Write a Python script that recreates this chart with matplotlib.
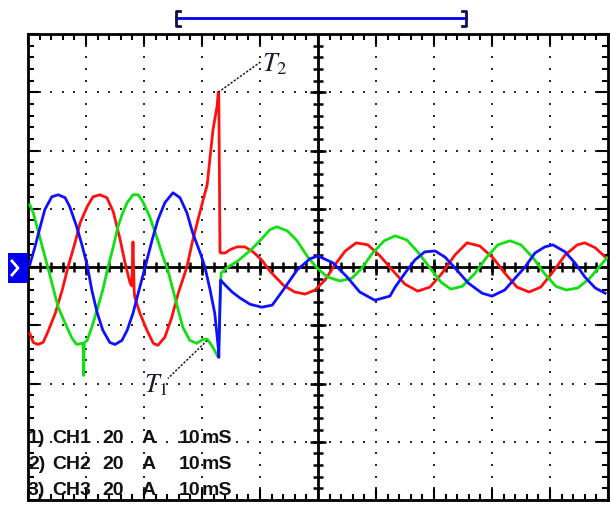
import numpy as np
import matplotlib
matplotlib.use('Agg')
import matplotlib.pyplot as plt
from matplotlib.lines import Line2D
from matplotlib.patches import Rectangle
from matplotlib.ticker import MultipleLocator

# scope traces: time in ms (10 ms/div), current in A (20 A/div)
ch1_t = [0.3, 0.9, 1.7, 2.6, 3.4, 4.7, 5.9, 6.9, 8.1, 9.0, 10.2, 11.2, 12.4, 13.6, 14.7, 15.9, 16.7, 17.6,
         17.9, 18.1, 18.3, 18.4, 19.3, 20.5, 21.6, 22.4, 23.6, 24.8, 25.9, 27.4, 28.3, 29.3, 30.2, 30.9,
         31.4, 31.9, 32.6, 32.8, 32.9, 33.1, 33.3, 34.0, 34.8, 36.0, 37.4, 38.8, 40.3, 41.7, 44.0, 46.0,
         47.8, 49.5, 51.2, 52.9, 54.7, 56.6, 58.6, 60.7, 62.8, 65.0, 67.2, 69.3, 71.4, 73.6, 75.7, 77.9,
         80.2, 82.2, 84.3, 86.4, 88.4, 90.5, 92.6, 94.7, 96.0, 97.8, 99.7]
ch1_i = [-22.8, -25.9, -26.6, -25.9, -22.4, -15.9, -7.9, 0.0, 8.3, 15.2, 20.7, 24.1, 24.8, 23.8, 19.0, 9.3, 1.7, -5.5,
         -6.5, 8.6, -8.0, -10.3, -15.9, -21.7, -26.2, -26.9, -24.1, -17.2, -9.0, 0.0, 8.3, 16.2, 23.1, 28.3,
         37.9, 47.2, 55.2, 60.0, 59.0, 5.0, 4.8, 4.8, 5.9, 6.9, 6.9, 5.2, 2.4, -1.4, -6.2, -8.6,
         -9.3, -7.9, -4.5, 0.7, 5.5, 8.3, 7.6, 3.8, -1.0, -5.9, -8.3, -6.9, -2.1, 4.1, 8.3, 7.2,
         3.1, -2.1, -6.9, -8.6, -6.9, -1.7, 4.1, 7.6, 8.3, 6.6, 3.1]

ch2_t = [0.3, 0.9, 1.7, 2.6, 3.4, 4.3, 5.2, 6.4, 7.6, 8.4, 9.3, 9.5, 9.6, 9.7, 10.2, 11.0, 11.9, 12.9, 13.8,
         14.7, 15.5, 16.2, 17.1, 18.1, 19.0, 19.8, 21.0, 22.2, 23.3, 24.1, 25.0, 25.9, 26.7, 27.9, 29.1,
         30.2, 30.9, 31.9, 32.8, 33.1, 33.3, 34.3, 36.2, 38.6, 40.3, 41.7, 42.9, 44.7, 46.4, 48.1, 49.8,
         51.6, 53.8, 55.9, 57.6, 59.3, 61.4, 63.3, 65.3, 67.2, 69.3, 71.2, 72.9, 74.9, 77.1, 79.1, 81.0,
         83.1, 85.0, 87.1, 89.1, 91.0, 92.8, 94.8, 96.9, 98.6, 99.8]
ch2_i = [21.4, 18.6, 12.8, 5.9, 0.0, -6.9, -13.8, -19.3, -24.5, -26.6, -26.2, -26.2, -37.2, -26.0, -25.2, -20.7, -14.8, -7.9, 0.0,
         6.9, 13.8, 17.9, 22.1, 24.8, 24.8, 22.4, 17.2, 10.3, 3.4, -1.0, -7.9, -14.8, -20.7, -25.2, -26.2,
         -24.8, -24.8, -27.6, -31.0, -12.4, -2.1, -0.3, 2.1, 6.2, 9.7, 12.8, 13.8, 12.4, 9.0, 3.8, -0.3,
         -3.4, -4.8, -3.8, -0.3, 4.5, 9.0, 10.7, 9.3, 5.2, -0.3, -5.2, -7.6, -6.6, -2.1, 3.4, 7.6,
         9.0, 7.6, 3.1, -2.4, -6.6, -7.9, -7.2, -3.8, 0.3, 3.1]

ch3_t = [0.3, 1.2, 2.1, 2.9, 4.1, 5.2, 6.4, 7.2, 8.4, 9.3, 10.2, 11.0, 11.9, 12.9, 14.1, 15.0, 16.2, 17.1,
         18.1, 19.0, 20.2, 21.4, 22.4, 23.6, 25.0, 26.2, 27.4, 28.4, 29.7, 30.5, 31.4, 32.2, 32.8, 32.9,
         33.2, 34.0, 35.2, 36.6, 38.3, 40.3, 42.1, 44.0, 46.4, 48.6, 50.0, 52.6, 55.0, 57.2, 59.8, 62.4,
         63.3, 65.0, 66.7, 68.4, 70.2, 71.9, 73.6, 75.9, 78.3, 80.0, 82.2, 84.0, 85.7, 87.4, 89.1, 90.5,
         92.6, 94.3, 96.0, 97.8, 99.5]
ch3_i = [0.7, 6.9, 13.8, 19.7, 24.1, 24.8, 23.8, 20.7, 13.8, 7.6, 0.7, -7.9, -15.5, -21.7, -25.9, -26.6, -25.2, -21.7,
         -15.9, -9.0, 0.0, 9.3, 16.2, 22.1, 25.5, 23.8, 18.6, 11.7, 4.8, 0.0, -7.9, -15.9, -27.6, -31.0,
         -4.5, -6.2, -8.6, -10.7, -12.8, -13.8, -13.1, -7.9, -1.0, 2.8, 3.8, 1.4, -3.4, -8.6, -11.4, -10.0,
         -6.9, -2.1, 2.4, 5.2, 5.5, 3.4, -0.3, -5.5, -9.0, -10.0, -7.9, -3.8, 0.0, 4.8, 6.9, 7.6,
         5.2, 1.4, -3.4, -7.2, -9.0]

ch_names = ['CH1', 'CH2', 'CH3']
ch_amps = ['20', '20', '20']
ch_units = ['A', 'A', 'A']
ch_time = ['10', '10', '10']
ch_colors = ['#ff1010', '#10e010', '#1010ff']

W, H = 610, 505
fig = plt.figure(figsize=(W / 100, H / 100), dpi=100)
fig.patch.set_facecolor('white')
ax = fig.add_axes([28 / W, 5 / H, 580 / W, 466 / H])
ax.set_xlim(0, 100)
ax.set_ylim(-80, 80)

# border ticks, pointing in
ax.xaxis.set_major_locator(MultipleLocator(10))
ax.xaxis.set_minor_locator(MultipleLocator(2))
ax.yaxis.set_major_locator(MultipleLocator(20))
ax.yaxis.set_minor_locator(MultipleLocator(4))
ax.tick_params(which='both', direction='in', top=True, right=True,
               labelbottom=False, labelleft=False, color='black', width=1.5)
ax.tick_params(which='major', length=8)
ax.tick_params(which='minor', length=4)
for s in ax.spines.values():
    s.set_linewidth(2)

# dotted graticule
dot_pos_y = np.arange(-80, 81, 4)
dot_pos_x = np.arange(0, 101, 2)
for gx in range(10, 100, 10):
    if gx == 50:
        continue
    ax.plot(np.full(dot_pos_y.size, gx), dot_pos_y, ls='none', marker='s', ms=1.8, color='#2a2a2a', mew=0)
for gy in range(-60, 61, 20):
    if gy == 0:
        continue
    ax.plot(dot_pos_x, np.full(dot_pos_x.size, gy), ls='none', marker='s', ms=1.8, color='#2a2a2a', mew=0)

# centre cross with its own ticks
ax.axhline(0, color='black', lw=2, zorder=2)
ax.axvline(50, color='black', lw=2, zorder=2)
minor_x = np.arange(2, 100, 2)
major_x = np.arange(10, 100, 10)
ax.plot(minor_x, np.zeros(minor_x.size), ls='none', marker='|', ms=7, mew=1.8, color='black', zorder=2)
ax.plot(major_x, np.zeros(major_x.size), ls='none', marker='|', ms=12, mew=1.8, color='black', zorder=2)
minor_y = np.arange(-76, 80, 4)
major_y = np.arange(-60, 61, 20)
ax.plot(np.full(minor_y.size, 50), minor_y, ls='none', marker='_', ms=7, mew=1.8, color='black', zorder=2)
ax.plot(np.full(major_y.size, 50), major_y, ls='none', marker='_', ms=12, mew=1.8, color='black', zorder=2)

# traces
for t, i, c in zip([ch1_t, ch2_t, ch3_t], [ch1_i, ch2_i, ch3_i], ch_colors):
    ax.plot(t, i, color=c, lw=2.0, zorder=3, solid_joinstyle='round')

# T1 / T2 markers
plt.rcParams['mathtext.fontset'] = 'stix'
ax.plot([32.8, 40.3], [60.0, 70.7], color='#222222', lw=1.1, ls=(0, (1.5, 1)), zorder=4)
ax.plot([30.9, 24.1], [-25.2, -38.3], color='#222222', lw=1.1, ls=(0, (1.5, 1)), zorder=4)
ax.text(40.4, 69.5, r'$T_2$', fontsize=19, color='#1a1a30', va='center', ha='left', zorder=5)
ax.text(24.2, -40.5, r'$T_1$', fontsize=19, color='#1a1a30', va='center', ha='right', zorder=5)

# channel settings read-out
rows_y = [-60.3, -69.3, -78.3]
for k in range(3):
    y = rows_y[k]
    items = [(0.0, '%d)' % (k + 1)), (4.2, ch_names[k]), (12.8, ch_amps[k]),
             (19.6, ch_units[k]), (26.0, ch_time[k]), (30.0, 'mS')]
    for x, s in items:
        ax.text(x, y, s, fontsize=14, fontweight='bold', family='Liberation Sans',
                color='#111111', va='baseline', ha='left', zorder=5)


def fx(px):
    return px / W


def fy(py):
    return 1 - py / H


# time window bracket on top
fig.add_artist(Line2D([fx(176), fx(466)], [fy(18), fy(18)], color='#0000ee', lw=2))
fig.add_artist(Line2D([fx(180), fx(176), fx(176), fx(180)], [fy(11), fy(11), fy(26), fy(26)],
                      color='#101040', lw=2))
fig.add_artist(Line2D([fx(462), fx(466), fx(466), fx(462)], [fy(11), fy(11), fy(26), fy(26)],
                      color='#101060', lw=2))

# ground marker on the left
fig.add_artist(Rectangle((fx(8), fy(283)), (28 - 8) / W, 30 / H, transform=fig.transFigure,
                         facecolor='#0000ee', edgecolor='none'))
fig.add_artist(Line2D([fx(12), fx(18), fx(12)], [fy(261), fy(268), fy(275)], color='white', lw=2))

fig.savefig('out.png', dpi=100)
